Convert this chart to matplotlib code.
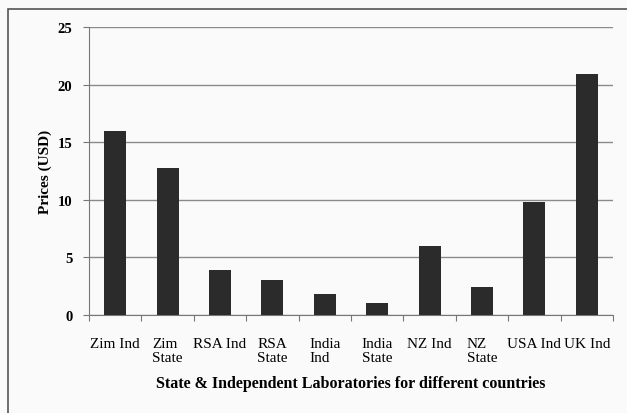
import matplotlib.pyplot as plt
from matplotlib.patches import Rectangle

labs = ['Zim Ind', 'Zim\nState', 'RSA Ind', 'RSA\nState', 'India\nInd',
        'India\nState', 'NZ Ind', 'NZ\nState', 'USA Ind', 'UK Ind']
prices = [16, 12.8, 3.9, 3.0, 1.8, 1.0, 6.0, 2.4, 9.8, 20.9]

plt.rcParams['font.family'] = ['Liberation Serif', 'DejaVu Serif']

fig = plt.figure(figsize=(6.27, 4.14), dpi=100)
fig.patch.set_facecolor('#fafafa')
# outer frame around the chart
fig.patches.append(Rectangle((8 / 627, -0.1), 1.0, 1.1 - 10 / 414, transform=fig.transFigure,
                             fill=False, edgecolor='#555555', lw=1.2))

ax = fig.add_axes([89 / 627, 1 - 316 / 414, 524 / 627, 288 / 414])
ax.set_facecolor('#fafafa')
x = range(len(labs))
ax.bar(x, prices, width=0.42, color='#2b2b2b', zorder=3)

ax.set_xlim(-0.5, len(labs) - 0.5)
ax.set_ylim(0, 25)
ax.set_yticks([0, 5, 10, 15, 20, 25])
ax.grid(axis='y', color='#8a8a8a', lw=1, zorder=0)
ax.set_xticks([i - 0.5 for i in range(len(labs) + 1)], minor=False)
ax.set_xticklabels([])
ax.set_xticks(list(x), minor=True)
ax.set_xticklabels(labs, minor=True, fontsize=11, multialignment='left', linespacing=1.05)
ax.tick_params(axis='x', which='minor', length=0, pad=16)
ax.tick_params(axis='x', which='major', length=4, color='#777777')
ax.tick_params(axis='y', length=4, color='#777777', labelsize=10.5, pad=8)
for t in ax.get_yticklabels():
    t.set_fontweight('bold')
for s in ['top', 'right']:
    ax.spines[s].set_visible(False)
for s in ['left', 'bottom']:
    ax.spines[s].set_color('#777777')

ax.set_ylabel('Prices (USD)', fontsize=11, fontweight='bold', labelpad=4)
ax.set_xlabel('State & Independent Laboratories for different countries',
              fontsize=11.5, fontweight='bold', labelpad=8)

fig.savefig('out.png', dpi=100, facecolor=fig.get_facecolor())
